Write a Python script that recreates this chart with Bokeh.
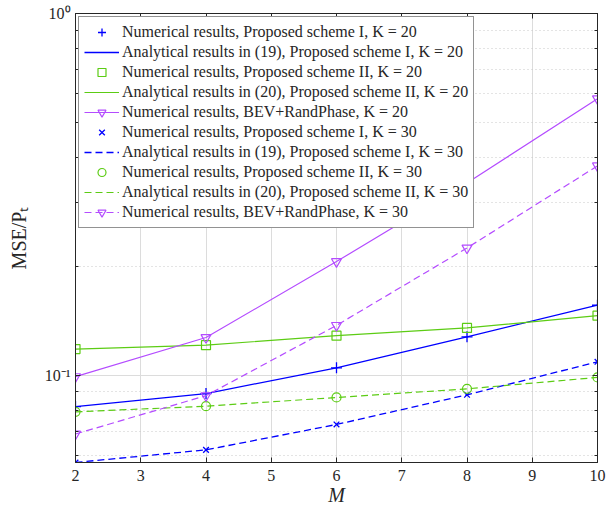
from bokeh.plotting import figure
from bokeh.models import (FixedTicker, Legend, LegendItem, LinearAxis, LogAxis,
                          CustomJSTickFormatter, Range1d)
from bokeh.embed import file_html
from bokeh.resources import INLINE

# ---- data ----
M = [2, 4, 6, 8, 10]
num_I_K20 = [0.0818, 0.0889, 0.1047, 0.1276, 0.156]
ana_I_K20 = [0.0818, 0.0889, 0.1047, 0.1276, 0.156]
num_II_K20 = [0.118, 0.121, 0.1285, 0.135, 0.146]
ana_II_K20 = [0.118, 0.121, 0.1285, 0.135, 0.146]
bev_K20 = [0.099, 0.127, 0.206, 0.340, 0.581]
num_I_K30 = [0.0573, 0.0621, 0.073, 0.0882, 0.1088]
ana_I_K30 = [0.0573, 0.0621, 0.073, 0.0882, 0.1088]
num_II_K30 = [0.0791, 0.082, 0.0867, 0.0916, 0.0985]
ana_II_K30 = [0.0791, 0.082, 0.0867, 0.0916, 0.0985]
bev_K30 = [0.0687, 0.0877, 0.1372, 0.2246, 0.379]

x_ticks = [2, 3, 4, 5, 6, 7, 8, 9, 10]
y_major = [0.1, 1.0]
y_minor = [0.06, 0.07, 0.08, 0.09, 0.2, 0.3, 0.4, 0.5, 0.6, 0.7, 0.8, 0.9]

labels = [
    "Numerical results, Proposed scheme I, K = 20",
    "Analytical results in (19), Proposed scheme I, K = 20",
    "Numerical results, Proposed scheme II, K = 20",
    "Analytical results in (20), Proposed scheme II, K = 20",
    "Numerical results, BEV+RandPhase, K = 20",
    "Numerical results, Proposed scheme I, K = 30",
    "Analytical results in (19), Proposed scheme I, K = 30",
    "Numerical results, Proposed scheme II, K = 30",
    "Analytical results in (20), Proposed scheme II, K = 30",
    "Numerical results, BEV+RandPhase, K = 30",
]

BLUE = "#0000ff"
GREEN = "#5ccc14"
PURPLE = "#b44cff"
FONT = "Liberation Serif"
DASH = "7 4"

p = figure(width=611, height=508, y_axis_type="log",
           x_range=Range1d(2, 10), y_range=Range1d(0.0573, 1.0),
           output_backend="svg", toolbar_location=None,
           min_border_left=75, min_border_right=14,
           min_border_top=13, min_border_bottom=46)

p.background_fill_color = "white"
p.border_fill_color = "white"
p.outline_line_color = "#262626"
p.outline_line_width = 1

# grids
p.xgrid.ticker = FixedTicker(ticks=x_ticks)
p.xgrid.grid_line_color = "#dcdcdc"
p.ygrid.grid_line_color = "#dcdcdc"
p.ygrid.minor_grid_line_color = "#c8c8c8"
p.ygrid.minor_grid_line_dash = "1 3"

# axes
def style_axis(ax):
    ax.axis_line_color = "#262626"
    ax.major_tick_line_color = "#262626"
    ax.minor_tick_line_color = "#262626"
    ax.major_tick_out = 0
    ax.major_tick_in = 5
    ax.minor_tick_out = 0
    ax.minor_tick_in = 3
    ax.major_label_text_font = FONT
    ax.major_label_text_font_size = "16px"
    ax.major_label_text_color = "#262626"
    ax.axis_label_text_font = FONT
    ax.axis_label_text_color = "#262626"
    ax.axis_label_text_font_size = "20px"

xa = p.xaxis[0]
xa.ticker = FixedTicker(ticks=x_ticks)
style_axis(xa)
xa.axis_label = "M"
xa.axis_label_text_font_style = "italic"
xa.axis_label_standoff = 0
xa.major_label_standoff = 7

ya = p.yaxis[0]
ya.ticker = FixedTicker(ticks=y_major, minor_ticks=y_minor)
ya.formatter = CustomJSTickFormatter(code="return tick > 0.5 ? '10\u2070' : '10\u207b\u00b9';")
style_axis(ya)
ya.axis_label = "MSE/P\u209c"
ya.axis_label_text_font_style = "normal"
ya.axis_label_standoff = 12
ya.major_label_standoff = 5

top = LinearAxis(ticker=FixedTicker(ticks=x_ticks),
                 formatter=CustomJSTickFormatter(code="return '';"))
style_axis(top)
top.major_label_standoff = 0
p.add_layout(top, "above")

right = LogAxis(ticker=FixedTicker(ticks=y_major, minor_ticks=y_minor),
                formatter=CustomJSTickFormatter(code="return '';"))
style_axis(right)
right.major_label_standoff = 0
p.add_layout(right, "right")

# glyphs
r0 = p.scatter(M, num_I_K20, marker="cross", size=11, line_color=BLUE, line_width=1.3)
r1 = p.line(M, ana_I_K20, line_color=BLUE, line_width=1.3)
r2 = p.scatter(M, num_II_K20, marker="square", size=9, line_color=GREEN,
               fill_color=None, line_width=1.2)
r3 = p.line(M, ana_II_K20, line_color=GREEN, line_width=1.2)
r4l = p.line(M, bev_K20, line_color=PURPLE, line_width=1.2)
r4m = p.scatter(M, bev_K20, marker="inverted_triangle", size=10, line_color=PURPLE,
                fill_color=None, line_width=1.2)
r5 = p.scatter(M, num_I_K30, marker="x", size=8, line_color=BLUE, line_width=1.3)
r6 = p.line(M, ana_I_K30, line_color=BLUE, line_width=1.3, line_dash=DASH)
r7 = p.scatter(M, num_II_K30, marker="circle", size=9, line_color=GREEN,
               fill_color=None, line_width=1.2)
r8 = p.line(M, ana_II_K30, line_color=GREEN, line_width=1.2, line_dash=DASH)
r9l = p.line(M, bev_K30, line_color=PURPLE, line_width=1.2, line_dash=DASH)
r9m = p.scatter(M, bev_K30, marker="inverted_triangle", size=10, line_color=PURPLE,
                fill_color=None, line_width=1.2)

rends = [[r0], [r1], [r2], [r3], [r4l, r4m], [r5], [r6], [r7], [r8], [r9l, r9m]]
items = [LegendItem(label=lab, renderers=rr) for lab, rr in zip(labels, rends)]
legend = Legend(items=items, location="top_left")
legend.margin = 3
legend.padding = 5
legend.spacing = 0
legend.label_height = 20
legend.glyph_height = 20
legend.glyph_width = 35
legend.label_standoff = 3
legend.label_text_font = FONT
legend.label_text_font_size = "16px"
legend.label_text_color = "#262626"
legend.border_line_color = "#262626"
legend.border_line_width = 1
legend.background_fill_color = "white"
legend.background_fill_alpha = 1.0
p.add_layout(legend, "center")

open("out.html", "w").write(file_html(p, INLINE))
